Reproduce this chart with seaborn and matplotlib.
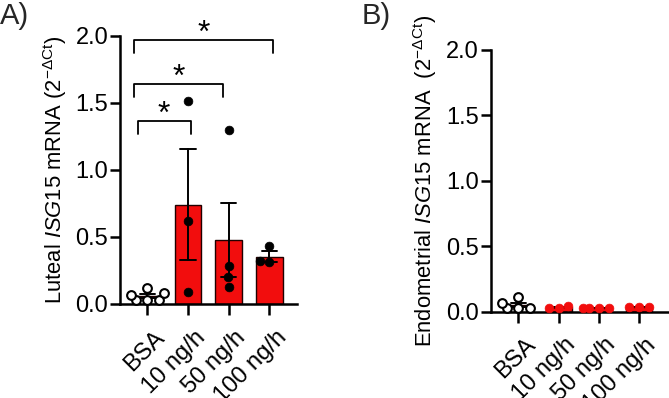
import numpy as np
import pandas as pd
import matplotlib
matplotlib.use("Agg")
import matplotlib.pyplot as plt
import matplotlib.transforms as mtransforms
import seaborn as sns

# ---------------- data ----------------
groups = ["BSA", "10 ng/h", "50 ng/h", "100 ng/h"]

luteal_bsa = [0.03, 0.03, 0.03, 0.07, 0.08, 0.12]
luteal_10 = [1.51, 0.62, 0.09]
luteal_50 = [1.30, 0.28, 0.20, 0.13]
luteal_100 = [0.43, 0.31, 0.32]

endo_bsa = [0.025, 0.025, 0.025, 0.065, 0.11]
endo_10 = [0.026, 0.045, 0.026]
endo_50 = [0.026, 0.026, 0.026, 0.026]
endo_100 = [0.035, 0.035, 0.035]

y_ticks = [0.0, 0.5, 1.0, 1.5, 2.0]
y_ticklabels = ["0.0", "0.5", "1.0", "1.5", "2.0"]

# significance brackets for panel A: (x_left, x_right, y_foot, y_top)
brackets_A = [(-0.24, 1.07, 1.267, 1.364),
              (-0.32, 1.87, 1.545, 1.640),
              (-0.32, 3.10, 1.873, 1.967)]
stars_A = ["*", "*", "*"]

RED = "#f20d0d"


def long_df(*vals):
    g, v = [], []
    for name, arr in zip(groups, vals):
        g += [name] * len(arr)
        v += list(arr)
    return pd.DataFrame({"group": g, "value": v})


dfA = long_df(luteal_bsa, luteal_10, luteal_50, luteal_100)
dfB = long_df(endo_bsa, endo_10, endo_50, endo_100)

# ---------------- style ----------------
sns.set_theme(style="ticks")
plt.rcParams["font.family"] = ["Liberation Sans", "DejaVu Sans"]
plt.rcParams["mathtext.fontset"] = "custom"
plt.rcParams["mathtext.rm"] = "Liberation Sans"
plt.rcParams["mathtext.it"] = "Liberation Sans:italic"
plt.rcParams["mathtext.bf"] = "Liberation Sans:bold"

FS_Y = 17
FS_X = 17
FS_LAB = 15.8
LW = 1.8

fig = plt.figure(figsize=(6.69, 3.98), dpi=100)
axA = fig.add_axes([0.1794, 0.2362, 0.2646, 0.6741])
axB = fig.add_axes([0.7335, 0.2168, 0.2665, 0.6576])


def panel(ax, df, ylabel, pt_color, xlim):
    bar_pal = {"BSA": "white", "10 ng/h": RED, "50 ng/h": RED, "100 ng/h": RED}
    sns.barplot(data=df, x="group", y="value", order=groups, hue="group",
                hue_order=groups, palette=bar_pal, saturation=1, errorbar="se",
                capsize=0.37, width=0.65, edgecolor="#200000", linewidth=1.0,
                err_kws={"color": "black", "linewidth": 1.4},
                legend=False, ax=ax)
    bsa = df[df["group"] == "BSA"]
    trt = df[df["group"] != "BSA"]
    sns.swarmplot(data=bsa, x="group", y="value", order=groups, color="white",
                  edgecolor="black", linewidth=1.5, size=6.3, ax=ax)
    sns.swarmplot(data=trt, x="group", y="value", order=groups, color=pt_color,
                  edgecolor=pt_color, linewidth=0.5, size=6.3, ax=ax)
    for coll in ax.collections:
        coll.set_clip_on(False)
        coll.set_zorder(5)
    ax.set_xlim(*xlim)
    ax.set_ylim(0, 2.0)
    ax.set_yticks(y_ticks)
    ax.set_yticklabels(y_ticklabels)
    ax.set_xticks(range(len(groups)))
    ax.set_xticklabels(groups, rotation=45, ha="right", va="top",
                       rotation_mode="anchor")
    sns.despine(ax=ax)
    ax.spines["left"].set_bounds(0, 2.0)
    for s in ("left", "bottom"):
        ax.spines[s].set_linewidth(LW)
        ax.spines[s].set_color("black")
    ax.tick_params(axis="y", length=7, width=LW, labelsize=FS_Y, pad=1.5,
                   colors="black")
    ax.tick_params(axis="x", length=8, width=LW, labelsize=FS_X, pad=8,
                   colors="black")
    shift = mtransforms.ScaledTranslation(6 / 100, 0, fig.dpi_scale_trans)
    for lab in ax.get_xticklabels():
        lab.set_transform(lab.get_transform() + shift)
    ax.set_xlabel("")
    ax.set_ylabel(ylabel, fontsize=FS_LAB, labelpad=5, color="black")
    ax.patch.set_alpha(0)


panel(axA, dfA, r"Luteal $\mathit{ISG15}$ mRNA (2$^{\mathregular{-ΔCt}}$)", "black",
      (-0.67, 3.68))
panel(axB, dfB, r"Endometrial $\mathit{ISG15}$ mRNA  (2$^{\mathregular{-ΔCt}}$)", RED,
      (-0.69, 3.75))

for (x1, x2, y0, y1), s in zip(brackets_A, stars_A):
    axA.plot([x1, x1, x2, x2], [y0, y1, y1, y0], color="black", lw=1.3,
             clip_on=False, zorder=6)
    axA.text((x1 + x2) / 2, y1 - 0.015, s, ha="center", va="baseline",
             fontsize=23, color="black", clip_on=False)

fig.text(0.0, 1 - 2 / 398, "A)", fontsize=21, ha="left", va="top")
fig.text(362 / 669, 1 - 2 / 398, "B)", fontsize=21, ha="left", va="top")

fig.savefig("out.png", dpi=100)
